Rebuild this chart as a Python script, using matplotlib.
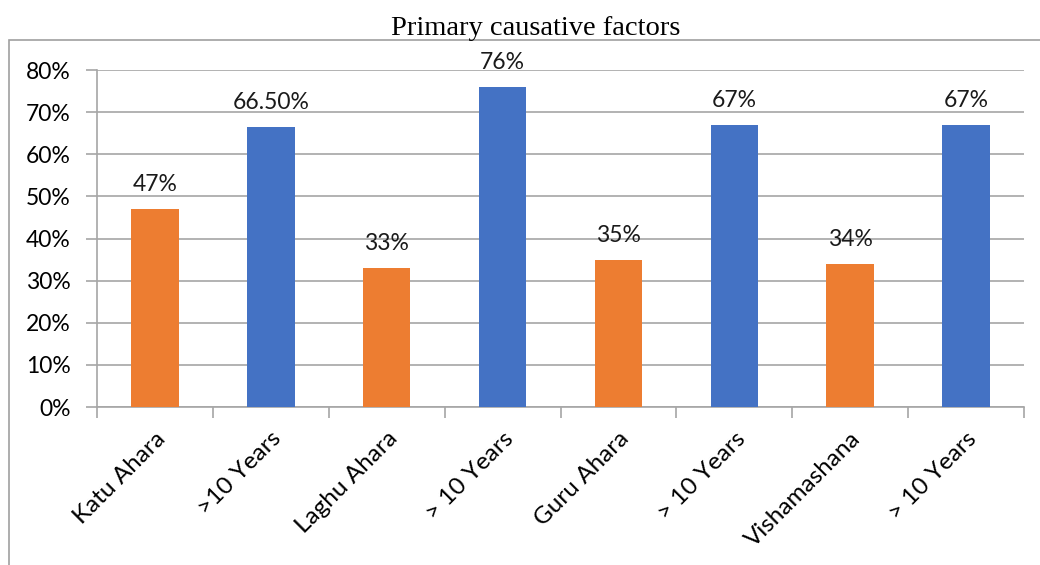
import matplotlib.pyplot as plt
from matplotlib.patches import Rectangle
from matplotlib.ticker import MultipleLocator, FuncFormatter

categories = ['Katu Ahara', '>10 Years', 'Laghu Ahara', '> 10 Years',
              'Guru Ahara', '> 10 Years', 'Vishamashana', '> 10 Years']
values = [47, 66.5, 33, 76, 35, 67, 34, 67]
value_labels = ['47%', '66.50%', '33%', '76%', '35%', '67%', '34%', '67%']

orange = '#ED7D31'
blue = '#4472C4'
grid_col = '#A6A6A6'
colors = [orange if i % 2 == 0 else blue for i in range(len(values))]

plt.rcParams['font.family'] = ['Lato', 'DejaVu Sans']
fs = 16.5

fig = plt.figure(figsize=(10.4, 5.65), dpi=100)
ax = fig.add_axes([0.0933, 0.2796, 0.8913, 0.5965])

# outer chart border (only left and top edges show)
fig.add_artist(Rectangle((0.0087, -0.1), 1.1, 1.0292, transform=fig.transFigure,
                         fill=False, edgecolor='#A0A0A0', linewidth=1.2))

x = range(len(values))
bars = ax.bar(x, values, width=0.41, color=colors, zorder=3)
for b, lab in zip(bars, value_labels):
    ax.text(b.get_x() + b.get_width() / 2, b.get_height() + 5.8, lab,
            ha='center', va='center', fontsize=fs, color='#1a1a1a')

ax.set_xlim(-0.5, len(values) - 0.5)
ax.set_ylim(0, 80)
ax.yaxis.set_major_locator(MultipleLocator(10))
ax.yaxis.set_major_formatter(FuncFormatter(lambda v, p: f'{v:.0f}%'))
ax.grid(axis='y', color=grid_col, linewidth=1.2, zorder=0)

ax.set_xticks([i - 0.5 for i in range(len(values) + 1)])
ax.set_xticklabels([])
ax.set_xticks(list(x), minor=True)
ax.set_xticklabels(categories, minor=True, rotation=45, ha='right', va='top',
                   rotation_mode='anchor', fontsize=17.5)
ax.tick_params(axis='x', which='minor', length=0, pad=15)
ax.tick_params(axis='x', which='major', length=8, color=grid_col, width=1.2)
ax.tick_params(axis='y', length=8, color=grid_col, width=1.2, labelsize=fs, pad=11)

for s in ['top', 'right']:
    ax.spines[s].set_visible(False)
for s in ['left', 'bottom']:
    ax.spines[s].set_color(grid_col)
    ax.spines[s].set_linewidth(1.2)

fig.text(0.515, 0.95, 'Primary causative factors', ha='center', va='center',
         fontsize=20.5, family='Liberation Serif')

fig.savefig('out.png', dpi=100)
